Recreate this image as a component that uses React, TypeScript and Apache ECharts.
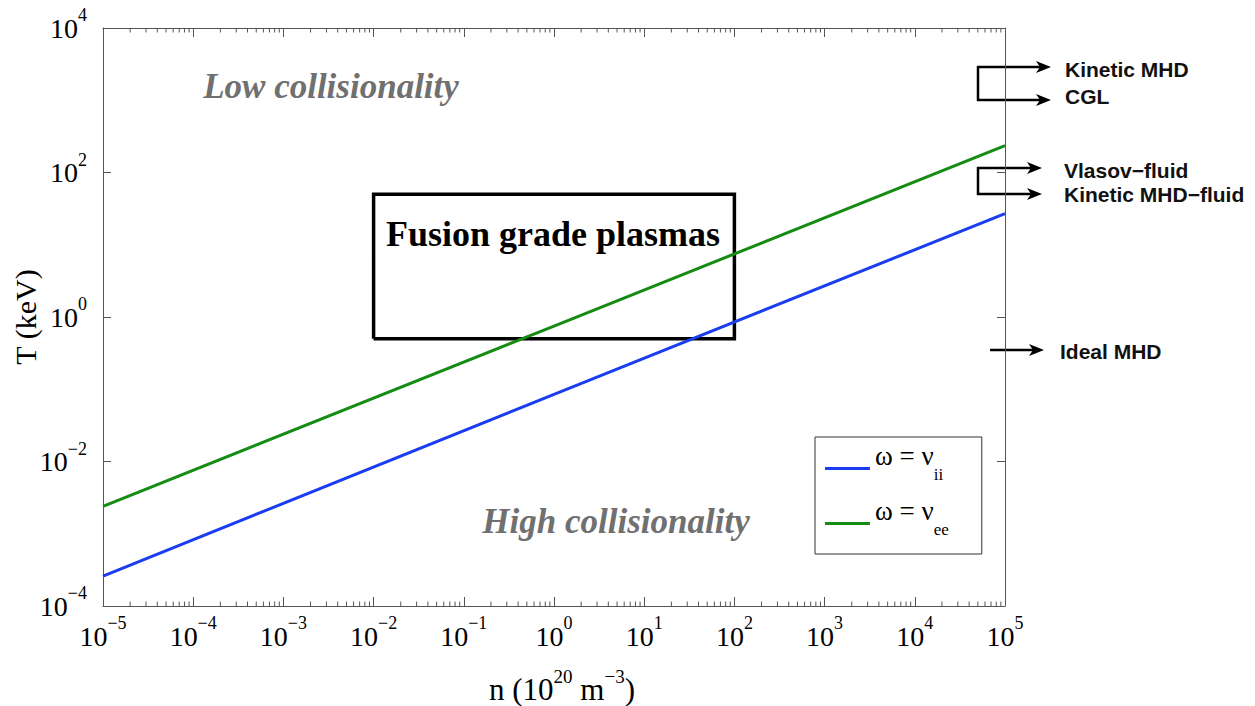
import React, { useEffect, useRef } from "react";
import * as echarts from "echarts";

// ---- data ----
const N_POINTS = [1e-5, 1, 1e5];
const T_NU_II = [2.6e-4, 0.085, 27];
const T_NU_EE = [2.4e-3, 0.75, 235];
const BOX_N = [1e-2, 1e2];
const BOX_T = [0.5, 50];
const X_MIN = 1e-5;
const X_MAX = 1e5;
const Y_MIN = 1e-4;
const Y_MAX = 1e4;
const MINOR_MULTIPLIERS = [2, 3, 4, 5, 6, 7, 8, 9];
const DECADES = [-5, -4, -3, -2, -1, 0, 1, 2, 3, 4];
const SERIES_NAMES = ["ii", "ee"];

const SERIF = "'Liberation Serif', 'Times New Roman', serif";
const SANS = "'Liberation Sans', Arial, sans-serif";
const AXIS_COLOR = "#555";
const BLUE = "#1a3cf2";
const GREEN = "#148c14";

const minorTicks: number[] = [];
DECADES.forEach((d) => MINOR_MULTIPLIERS.forEach((m) => minorTicks.push(m * Math.pow(10, d))));

const powLabel = (v: number) => {
  const e = Math.round(Math.log10(v));
  return `{b|10}{s|${e < 0 ? "\u2212" + Math.abs(e) : e}}`;
};

const makeTickRich = () => ({
  b: { fontSize: 28, fontFamily: SERIF, color: "#000", lineHeight: 28 },
  s: { fontSize: 18, fontFamily: SERIF, color: "#000", lineHeight: 18, padding: [0, 0, 26, 0] },
});

export default function App() {
  const ref = useRef<HTMLDivElement>(null);
  useEffect(() => {
    if (!ref.current) return;
    const chart = echarts.init(ref.current, null, { renderer: "svg" });
    const arrowHead = (x: number, y: number) => ({
      type: "polygon",
      shape: { points: [[x, y], [x - 15, y - 6], [x - 11, y], [x - 15, y + 6]] },
      style: { fill: "#000" },
    });
    const seg = (x1: number, y1: number, x2: number, y2: number) => ({
      type: "line",
      shape: { x1, y1, x2, y2 },
      style: { stroke: "#000", lineWidth: 2.5 },
    });
    const label = (text: string, x: number, y: number) => ({
      type: "text",
      x,
      y,
      style: { text, font: `bold 21px ${SANS}`, fill: "#111", verticalAlign: "middle", align: "left" },
    });
    const option: any = {
      animation: false,
      backgroundColor: "#fff",
      grid: { left: 103, top: 28, width: 902, height: 578, containLabel: false, outerBoundsMode: "none" },
      xAxis: [
        {
          type: "log",
          logBase: 10,
          min: X_MIN,
          max: X_MAX,
          interval: 1,
          name: "{b|n (10}{s|20}{b| m}{s|\u22123}{b|)}",
          nameLocation: "middle",
          nameGap: 68,
          nameMoveOverlap: false,
          nameTextStyle: {
            padding: [0, 0, 0, 16],
            rich: {
              b: { fontSize: 31, fontFamily: SERIF, color: "#000", lineHeight: 31 },
              s: { fontSize: 19, fontFamily: SERIF, color: "#000", lineHeight: 19, padding: [0, 0, 27, 0] },
            },
          },
          axisLine: { show: true, lineStyle: { color: AXIS_COLOR, width: 1 } },
          axisTick: { show: true, inside: true, length: 9, lineStyle: { color: AXIS_COLOR } },
          axisLabel: { formatter: powLabel, margin: 16, rich: makeTickRich(), showMinLabel: true, showMaxLabel: true, interval: 0, hideOverlap: false },
          splitLine: { show: false },
          minorTick: { show: false },
        },
        {
          type: "log",
          logBase: 10,
          min: X_MIN,
          max: X_MAX,
          interval: 1,
          position: "top",
          axisLine: { show: true, lineStyle: { color: AXIS_COLOR, width: 1 } },
          axisTick: { show: true, inside: true, length: 9, lineStyle: { color: AXIS_COLOR } },
          axisLabel: { show: false },
          splitLine: { show: false },
        },
      ],
      yAxis: [
        {
          type: "log",
          logBase: 10,
          min: Y_MIN,
          max: Y_MAX,
          interval: 2,
          name: "T (keV)",
          nameLocation: "middle",
          nameRotate: 90,
          nameGap: 63,
          nameMoveOverlap: false,
          nameTextStyle: { fontSize: 30, fontFamily: SERIF, color: "#000" },
          axisLine: { show: true, lineStyle: { color: AXIS_COLOR, width: 1 } },
          axisTick: { show: true, inside: true, length: 8, lineStyle: { color: AXIS_COLOR } },
          axisLabel: { formatter: powLabel, margin: 16, rich: makeTickRich(), showMinLabel: true, showMaxLabel: true, interval: 0, hideOverlap: false },
          splitLine: { show: false },
        },
        {
          type: "log",
          logBase: 10,
          min: Y_MIN,
          max: Y_MAX,
          interval: 2,
          position: "right",
          axisLine: { show: true, lineStyle: { color: AXIS_COLOR, width: 1 } },
          axisTick: { show: true, inside: true, length: 8, lineStyle: { color: AXIS_COLOR } },
          axisLabel: { show: false },
          splitLine: { show: false },
        },
      ],
      legend: {
        data: SERIES_NAMES,
        orient: "vertical",
        left: 815,
        top: 437,
        icon: "rect",
        itemWidth: 45,
        itemHeight: 3,
        itemGap: 2,
        padding: [5, 33, 4, 10],
        borderColor: "#333",
        borderWidth: 1,
        backgroundColor: "#fff",
        formatter: (name: string) => `{a|\u03c9 = \u03bd}{s|${name}}`,
        textStyle: {
          rich: {
            a: { fontSize: 27, fontFamily: SERIF, color: "#000", lineHeight: 27, padding: [0, 0, 26, 0] },
            s: { fontSize: 17, fontFamily: SERIF, color: "#000", lineHeight: 17, padding: [12, 0, 0, 0] },
          },
        },
      },
      series: [
        {
          name: "box",
          type: "line",
          symbol: "none",
          data: [
            [BOX_N[0], BOX_T[0]],
            [BOX_N[1], BOX_T[0]],
            [BOX_N[1], BOX_T[1]],
            [BOX_N[0], BOX_T[1]],
            [BOX_N[0], BOX_T[0]],
          ],
          lineStyle: { color: "#000", width: 3.5, join: "miter" },
          itemStyle: { color: "#000" },
          z: 3,
        },
        {
          name: SERIES_NAMES[1],
          type: "line",
          symbol: "none",
          data: N_POINTS.map((n, i) => [n, T_NU_EE[i]]),
          lineStyle: { color: GREEN, width: 3 },
          itemStyle: { color: GREEN },
          z: 4,
        },
        {
          name: SERIES_NAMES[0],
          type: "line",
          symbol: "none",
          data: N_POINTS.map((n, i) => [n, T_NU_II[i]]),
          lineStyle: { color: BLUE, width: 3 },
          itemStyle: { color: BLUE },
          z: 4,
        },
        {
          name: "minor",
          type: "custom",
          data: minorTicks.map((v) => [v, Y_MIN]),
          silent: true,
          clip: false,
          renderItem: (params: any, api: any) => {
            const v = api.value(0);
            const b = api.coord([v, Y_MIN]);
            const t = api.coord([v, Y_MAX]);
            return {
              type: "group",
              children: [
                { type: "line", shape: { x1: b[0], y1: b[1], x2: b[0], y2: b[1] - 4.5 }, style: { stroke: AXIS_COLOR, lineWidth: 1 } },
                { type: "line", shape: { x1: t[0], y1: t[1], x2: t[0], y2: t[1] + 4.5 }, style: { stroke: AXIS_COLOR, lineWidth: 1 } },
              ],
            };
          },
        },
      ],
      graphic: [
        {
          type: "text",
          x: 331,
          y: 86,
          style: { text: "Low collisionality", font: `italic bold 35px ${SERIF}`, fill: "#707070", align: "center", verticalAlign: "middle" },
        },
        {
          type: "text",
          x: 616,
          y: 521,
          style: { text: "High collisionality", font: `italic bold 35px ${SERIF}`, fill: "#707070", align: "center", verticalAlign: "middle" },
        },
        {
          type: "text",
          x: 553,
          y: 234,
          style: { text: "Fusion grade plasmas", font: `bold 36px ${SERIF}`, fill: "#000", align: "center", verticalAlign: "middle" },
        },
        seg(978, 66, 978, 101),
        seg(977, 67, 1040, 67),
        seg(977, 100, 1040, 100),
        arrowHead(1051, 67),
        arrowHead(1051, 100),
        seg(978, 167, 978, 195),
        seg(977, 168, 1031, 168),
        seg(977, 194, 1031, 194),
        arrowHead(1042, 168),
        arrowHead(1042, 194),
        seg(990, 350, 1033, 350),
        arrowHead(1044, 350),
        label("Kinetic MHD", 1065, 69),
        label("CGL", 1065, 96),
        label("Vlasov\u2212fluid", 1064, 170),
        label("Kinetic MHD\u2212fluid", 1064, 194),
        label("Ideal MHD", 1060, 351),
      ],
    };
    chart.setOption(option);
    return () => chart.dispose();
  }, []);
  return <div ref={ref} style={{ position: "fixed", left: 0, top: 0, width: 1255, height: 706 }} />;
}
